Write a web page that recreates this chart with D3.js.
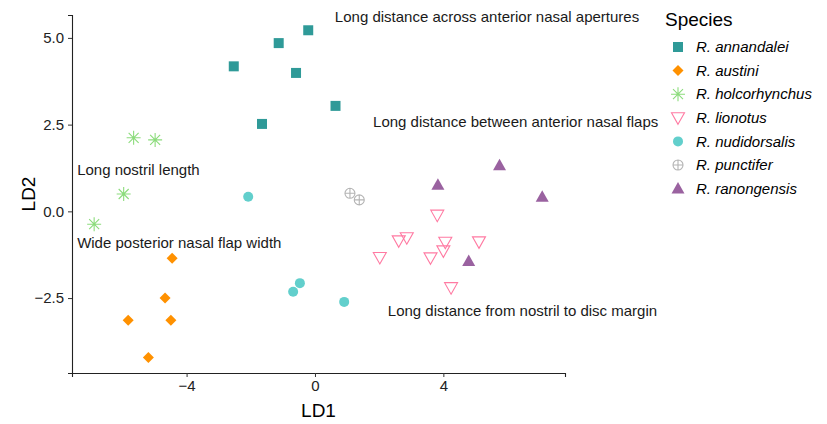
<!DOCTYPE html>
<html>
<head>
<meta charset="utf-8">
<script src="https://cdn.jsdelivr.net/npm/d3@7"></script>
<style>
  body { margin: 0; background: #fff; }
  svg { font-family: "Liberation Sans", Arial, sans-serif; }
</style>
</head>
<body>
<div id="chart"></div>
<script>
// species and LD scores
const species = ["R. annandalei", "R. austini", "R. holcorhynchus", "R. lionotus",
  "R. nudidorsalis", "R. punctifer", "R. ranongensis"];
const colors = ["#2f9a98", "#ff9100", "#8cdc7c", "#ff7aa2", "#62cfcc", "#b4b4b4", "#9a62a0"];
const shapes = ["square", "diamond", "asterisk", "triDown", "circle", "circlePlus", "triUp"];

const annandalei = [[-0.21, 5.22], [-1.13, 4.85], [-2.53, 4.18], [-0.59, 3.99], [0.64, 3.04], [-1.65, 2.52]];
const austini = [[-4.45, -1.35], [-4.67, -2.50], [-5.82, -3.14], [-4.49, -3.14], [-5.19, -4.21]];
const holcorhynchus = [[-5.65, 2.12], [-4.98, 2.06], [-5.96, 0.50], [-6.88, -0.37]];
const lionotus = [[3.81, -0.11], [2.61, -0.85], [2.86, -0.76], [4.06, -0.89], [4.00, -1.14],
  [5.11, -0.88], [2.02, -1.33], [3.60, -1.34], [4.24, -2.20]];
const nudidorsalis = [[-2.08, 0.42], [-0.47, -2.07], [-0.68, -2.32], [0.91, -2.61]];
const punctifer = [[1.09, 0.52], [1.38, 0.33]];
const ranongensis = [[5.75, 1.33], [3.83, 0.77], [7.08, 0.42], [4.79, -1.43]];
const seriesValues = [annandalei, austini, holcorhynchus, lionotus, nudidorsalis, punctifer, ranongensis];

const xTicks = [-4, 0, 4];
const yTicks = [-2.5, 0, 2.5, 5];

// annotation positions are the left edge of each label, in LD units
const annotations = [
  { text: "Long distance across anterior nasal apertures", x: 0.62, y: 5.6 },
  { text: "Long distance between anterior nasal flaps", x: 1.81, y: 2.57 },
  { text: "Long nostril length", x: -7.41, y: 1.19 },
  { text: "Wide posterior nasal flap width", x: -7.41, y: -0.91 },
  { text: "Long distance from nostril to disc margin", x: 2.27, y: -2.87 }
];

const width = 827, height = 424;
const margin = { top: 15, right: 262, bottom: 51, left: 72 };

const svg = d3.select("#chart").append("svg")
  .attr("width", width)
  .attr("height", height);

const x = d3.scaleLinear()
  .domain([-7.57, 7.79])
  .range([margin.left, width - margin.right]);

const y = d3.scaleLinear()
  .domain([-4.66, 5.66])
  .range([height - margin.bottom, margin.top]);

// shape paths centred on 0,0
function shapePath(shape) {
  switch (shape) {
    case "square": return "M-5,-5H5V5H-5Z";
    case "diamond": return "M0,-5.5L5.5,0L0,5.5L-5.5,0Z";
    case "circle": return "M5,0A5,5 0 1,1 -5,0A5,5 0 1,1 5,0Z";
    case "triUp": return "M0,-6.5L6.5,5L-6.5,5Z";
    case "triDown": return "M0,6.5L6.5,-5L-6.5,-5Z";
    case "asterisk": return "M-7,0H7M0,-7V7M-5,-5L5,5M-5,5L5,-5";
    case "circlePlus": return "M5,0A5,5 0 1,1 -5,0A5,5 0 1,1 5,0ZM-5,0H5M0,-5V5";
  }
}
function styleShape(sel, i) {
  const s = shapes[i];
  const outline = s === "asterisk" || s === "triDown" || s === "circlePlus";
  sel.attr("d", shapePath(s))
    .attr("fill", outline ? "none" : colors[i])
    .attr("stroke", colors[i])
    .attr("stroke-width", outline ? 1.1 : 0);
}

// X Axis
const xAxis = svg.append("g")
  .attr("transform", `translate(0,${height - margin.bottom})`)
  .call(d3.axisBottom(x).tickValues(xTicks).tickSize(4).tickPadding(3)
    .tickFormat(d => d3.format("")(d).replace("-", "\u2212")));
xAxis.select(".domain").attr("stroke", "#222").attr("stroke-width", 1.1);
xAxis.selectAll(".tick line").attr("stroke", "#333");
xAxis.selectAll("text").style("font-size", "15px").attr("fill", "#222");

// Y Axis
const yAxis = svg.append("g")
  .attr("transform", `translate(${margin.left},0)`)
  .call(d3.axisLeft(y).tickValues(yTicks).tickSize(4).tickPadding(4)
    .tickFormat(d => d3.format(".1f")(d).replace("-", "\u2212")));
yAxis.select(".domain").attr("stroke", "#222").attr("stroke-width", 1.1);
yAxis.selectAll(".tick line").attr("stroke", "#333");
yAxis.selectAll("text").style("font-size", "15px").attr("fill", "#222");

// Axis titles
svg.append("text")
  .attr("x", (margin.left + width - margin.right) / 2)
  .attr("y", 417)
  .attr("text-anchor", "middle")
  .style("font-size", "19px")
  .text("LD1");

svg.append("text")
  .attr("transform", "rotate(-90)")
  .attr("x", -(margin.top + height - margin.bottom) / 2)
  .attr("y", 35)
  .attr("text-anchor", "middle")
  .style("font-size", "19px")
  .text("LD2");

// Annotations
svg.selectAll("text.note")
  .data(annotations)
  .join("text")
  .attr("class", "note")
  .attr("x", d => x(d.x))
  .attr("y", d => y(d.y))
  .attr("dy", "0.35em")
  .style("font-size", "15px")
  .attr("fill", "#1a1a1a")
  .text(d => d.text);

// Points
seriesValues.forEach((pts, i) => {
  svg.append("g").selectAll("path")
    .data(pts)
    .join("path")
    .attr("transform", d => `translate(${x(d[0])},${y(d[1])})`)
    .call(sel => styleShape(sel, i));
});

// Legend
const legend = svg.append("g").attr("transform", "translate(665,0)");
legend.append("text")
  .attr("x", 0)
  .attr("y", 26)
  .style("font-size", "19px")
  .text("Species");

const item = legend.selectAll("g.item")
  .data(species)
  .join("g")
  .attr("class", "item")
  .attr("transform", (d, i) => `translate(13,${47 + i * 23.6})`);
item.append("path").each(function (d, i) { styleShape(d3.select(this), i); });
item.append("text")
  .attr("x", 18)
  .attr("dy", "0.35em")
  .style("font-size", "15px")
  .style("font-style", "italic")
  .text(d => d);
</script>
</body>
</html>
